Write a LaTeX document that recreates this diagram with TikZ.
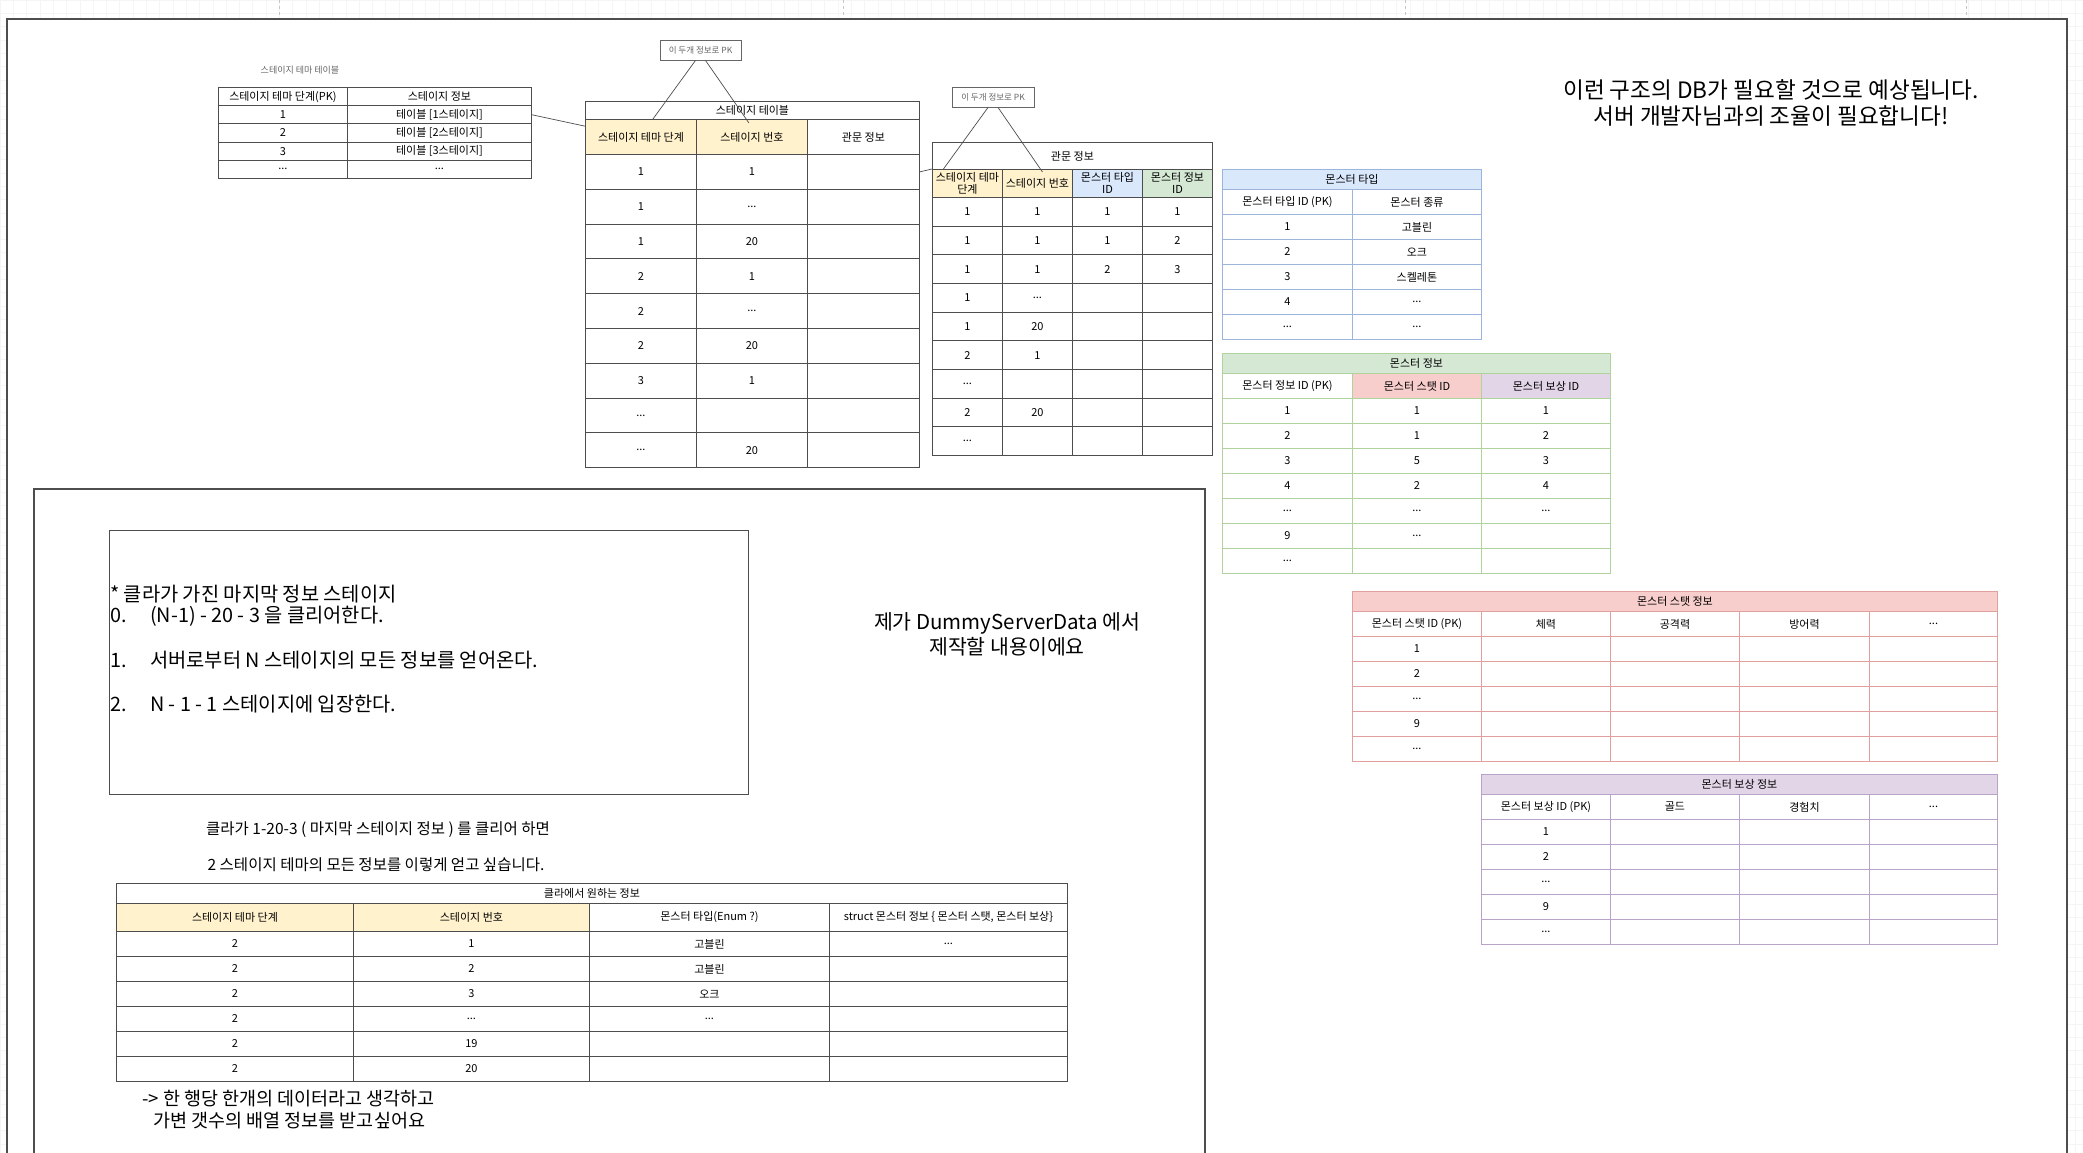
\documentclass[tikz,border=0pt]{standalone}
\usepackage{fontspec}
\setmainfont{Noto Sans CJK KR}
\usetikzlibrary{calc}

\definecolor{linegray}{HTML}{4D4D4D}
\definecolor{notegray}{HTML}{666666}
\definecolor{pkyellow}{HTML}{FFF2CC}
\definecolor{typefill}{HTML}{DAE8FC}
\definecolor{typeline}{HTML}{9CB5DB}
\definecolor{infofill}{HTML}{D5E8D4}
\definecolor{infoline}{HTML}{B0D39E}
\definecolor{statfill}{HTML}{F8CECC}
\definecolor{statline}{HTML}{E0A09E}
\definecolor{rewardfill}{HTML}{E1D5E7}
\definecolor{rewardline}{HTML}{B9A3C8}

\newcommand{\tabfont}{\fontsize{11}{12}\selectfont}
\newcommand{\ellip}{{.}{.}{.}}
\newcommand{\stepno}[1]{\makebox[40pt][l]{#1}}

\tikzset{
  dbcell/.style={draw=#1, line width=0.9pt, anchor=north west, inner sep=0pt, align=center, font=\tabfont},
  dbcell/.default=linegray,
  pkbox/.style={draw=notegray, line width=0.9pt, minimum width=81, minimum height=20, inner sep=0pt,
    font=\fontsize{8.5}{9}\selectfont, text=notegray},
  link/.style={draw=linegray, line width=0.7pt},
  outerframe/.style={draw=linegray, line width=1.5pt},
  notetext/.style={anchor=west, inner sep=0pt, font=\fontsize{19.8}{22}\selectfont},
}

\begin{document}
\begin{tikzpicture}[x=1pt,y=-1pt]
\useasboundingbox (0,0) rectangle (2083,1153);

% canvas grid
\foreach \gx in {0,13.3,...,2083} \draw[gray!8, line width=0.5pt] (\gx,0) -- (\gx,1153);
\foreach \gy in {0,13.3,...,1153} \draw[gray!8, line width=0.5pt] (0,\gy) -- (2083,\gy);
\foreach \px in {279,843,1405,1966} \draw[gray!45, dashed] (\px,0) -- (\px,19);
\fill[white] (7,19) rectangle (2067,1153);
\draw[outerframe] (7,1153) -- (7,19) -- (2067,19) -- (2067,1153);
\draw[linegray, line width=1.3pt] (34,1153) -- (34,489) -- (1205,489) -- (1205,1153);

% stage theme table
\node[font=\fontsize{9}{10}\selectfont, text=notegray] (stt-label) at (300,70) {스테이지 테마 테이블};
\node[dbcell, minimum width=129, minimum height=18.2] (stt-h1) at (218,87) {스테이지 테마 단계(PK)};
\node[dbcell, minimum width=184, minimum height=18.2] (stt-h2) at (347,87) {스테이지 정보};
\foreach \a/\b [count=\i] in {1/{테이블 [1스테이지]}, 2/{테이블 [2스테이지]}, 3/{테이블 [3스테이지]}, \ellip/\ellip} {
  \node[dbcell, minimum width=129, minimum height=18.2] (stt-\i-1) at (218,87+18.2*\i) {\a};
  \node[dbcell, minimum width=184, minimum height=18.2] (stt-\i-2) at (347,87+18.2*\i) {\b};
}

% stage table
\node[dbcell, minimum width=334, minimum height=18] (stg-t) at (585,101) {스테이지 테이블};
\node[dbcell, fill=pkyellow, minimum width=111, minimum height=35] (stg-h1) at (585,119) {스테이지 테마 단계};
\node[dbcell, fill=pkyellow, minimum width=111, minimum height=35] (stg-h2) at (696,119) {스테이지 번호};
\node[dbcell, minimum width=112, minimum height=35] (stg-h3) at (807,119) {관문 정보};
\foreach \a/\b [count=\i] in {1/1, 1/\ellip, 1/20, 2/1, 2/\ellip, 2/20, 3/1, \ellip/{}, \ellip/20} {
  \node[dbcell, minimum width=111, minimum height=34.8] (stg-\i-1) at (585,119.2+34.8*\i) {\a};
  \node[dbcell, minimum width=111, minimum height=34.8] (stg-\i-2) at (696,119.2+34.8*\i) {\b};
  \node[dbcell, minimum width=112, minimum height=34.8] (stg-\i-3) at (807,119.2+34.8*\i) {};
}

% gate info table
\node[dbcell, minimum width=280, minimum height=27] (gate-t) at (932,142) {관문 정보};
\begin{scope}[every node/.append style={font=\fontsize{10.5}{11.5}\selectfont}]
\node[dbcell, fill=pkyellow, minimum width=70, minimum height=28] (gate-h1) at (932,169) {스테이지 테마\\단계};
\node[dbcell, fill=pkyellow, minimum width=70, minimum height=28] (gate-h2) at (1002,169) {스테이지 번호};
\node[dbcell, fill=typefill, minimum width=70, minimum height=28] (gate-h3) at (1072,169) {몬스터 타입\\ID};
\node[dbcell, fill=infofill, minimum width=70, minimum height=28] (gate-h4) at (1142,169) {몬스터 정보\\ID};
\end{scope}
\foreach \a/\b/\c/\d [count=\i] in {1/1/1/1, 1/1/1/2, 1/1/2/3, 1/\ellip/{}/{}, 1/20/{}/{}, 2/1/{}/{},
    \ellip/{}/{}/{}, 2/20/{}/{}, \ellip/{}/{}/{}} {
  \node[dbcell, minimum width=70, minimum height=28.67] (gate-\i-1) at (932,168.33+28.67*\i) {\a};
  \node[dbcell, minimum width=70, minimum height=28.67] (gate-\i-2) at (1002,168.33+28.67*\i) {\b};
  \node[dbcell, minimum width=70, minimum height=28.67] (gate-\i-3) at (1072,168.33+28.67*\i) {\c};
  \node[dbcell, minimum width=70, minimum height=28.67] (gate-\i-4) at (1142,168.33+28.67*\i) {\d};
}

% PK notes
\node[pkbox] (pk1) at (700.5,50) {이 두개 정보로 PK};
\node[pkbox, minimum width=82] (pk2) at (993,97) {이 두개 정보로 PK};

% monster type
\node[dbcell=typeline, fill=typefill, minimum width=259, minimum height=20] (mtype-t) at (1222,169) {몬스터 타입};
\node[dbcell=typeline, minimum width=130, minimum height=25] (mtype-h1) at (1222,189) {몬스터 타입 ID (PK)};
\node[dbcell=typeline, minimum width=129, minimum height=25] (mtype-h2) at (1352,189) {몬스터 종류};
\foreach \a/\b [count=\i] in {1/고블린, 2/오크, 3/스켈레톤, 4/\ellip, \ellip/\ellip} {
  \node[dbcell=typeline, minimum width=130, minimum height=25] (mtype-\i-1) at (1222,189+25*\i) {\a};
  \node[dbcell=typeline, minimum width=129, minimum height=25] (mtype-\i-2) at (1352,189+25*\i) {\b};
}

% monster info
\node[dbcell=infoline, fill=infofill, minimum width=388, minimum height=20] (minfo-t) at (1222,353) {몬스터 정보};
\node[dbcell=infoline, minimum width=130, minimum height=25] (minfo-h1) at (1222,373) {몬스터 정보 ID (PK)};
\node[dbcell=infoline, fill=statfill, minimum width=129, minimum height=25] (minfo-h2) at (1352,373) {몬스터 스탯 ID};
\node[dbcell=infoline, fill=rewardfill, minimum width=129, minimum height=25] (minfo-h3) at (1481,373) {몬스터 보상 ID};
\foreach \a/\b/\c [count=\i] in {1/1/1, 2/1/2, 3/5/3, 4/2/4, \ellip/\ellip/\ellip, 9/\ellip/{}, \ellip/{}/{}} {
  \node[dbcell=infoline, minimum width=130, minimum height=25] (minfo-\i-1) at (1222,373+25*\i) {\a};
  \node[dbcell=infoline, minimum width=129, minimum height=25] (minfo-\i-2) at (1352,373+25*\i) {\b};
  \node[dbcell=infoline, minimum width=129, minimum height=25] (minfo-\i-3) at (1481,373+25*\i) {\c};
}

% monster stat
\node[dbcell=statline, fill=statfill, minimum width=645, minimum height=20] (mstat-t) at (1352,591) {몬스터 스탯 정보};
\node[dbcell=statline, minimum width=129, minimum height=25] (mstat-h1) at (1352,611) {몬스터 스탯 ID (PK)};
\node[dbcell=statline, minimum width=129, minimum height=25] (mstat-h2) at (1481,611) {체력};
\node[dbcell=statline, minimum width=129, minimum height=25] (mstat-h3) at (1610,611) {공격력};
\node[dbcell=statline, minimum width=130, minimum height=25] (mstat-h4) at (1739,611) {방어력};
\node[dbcell=statline, minimum width=128, minimum height=25] (mstat-h5) at (1869,611) {\ellip};
\foreach \a [count=\i] in {1, 2, \ellip, 9, \ellip} {
  \node[dbcell=statline, minimum width=129, minimum height=25] (mstat-\i-1) at (1352,611+25*\i) {\a};
  \node[dbcell=statline, minimum width=129, minimum height=25] (mstat-\i-2) at (1481,611+25*\i) {};
  \node[dbcell=statline, minimum width=129, minimum height=25] (mstat-\i-3) at (1610,611+25*\i) {};
  \node[dbcell=statline, minimum width=130, minimum height=25] (mstat-\i-4) at (1739,611+25*\i) {};
  \node[dbcell=statline, minimum width=128, minimum height=25] (mstat-\i-5) at (1869,611+25*\i) {};
}

% monster reward
\node[dbcell=rewardline, fill=rewardfill, minimum width=516, minimum height=20] (mreward-t) at (1481,774) {몬스터 보상 정보};
\node[dbcell=rewardline, minimum width=129, minimum height=25] (mreward-h1) at (1481,794) {몬스터 보상 ID (PK)};
\node[dbcell=rewardline, minimum width=129, minimum height=25] (mreward-h2) at (1610,794) {골드};
\node[dbcell=rewardline, minimum width=130, minimum height=25] (mreward-h3) at (1739,794) {경험치};
\node[dbcell=rewardline, minimum width=128, minimum height=25] (mreward-h4) at (1869,794) {\ellip};
\foreach \a [count=\i] in {1, 2, \ellip, 9, \ellip} {
  \node[dbcell=rewardline, minimum width=129, minimum height=25] (mreward-\i-1) at (1481,794+25*\i) {\a};
  \node[dbcell=rewardline, minimum width=129, minimum height=25] (mreward-\i-2) at (1610,794+25*\i) {};
  \node[dbcell=rewardline, minimum width=130, minimum height=25] (mreward-\i-3) at (1739,794+25*\i) {};
  \node[dbcell=rewardline, minimum width=128, minimum height=25] (mreward-\i-4) at (1869,794+25*\i) {};
}

% connectors
\draw[link] (stt-1-2.east) -- ($(stg-h1.north west)!0.2!(stg-h1.south west)$);
\draw[link] ([xshift=-5pt]pk1.south) -- ([xshift=12pt]stg-h1.north);
\draw[link] ([xshift=5pt]pk1.south) -- ([xshift=-3pt,yshift=-4pt]stg-h2.north);
\draw[link] ([xshift=-5pt]pk2.south) -- ([xshift=-24pt]gate-h1.north);
\draw[link] ([xshift=5pt]pk2.south) -- ([xshift=5pt,yshift=-3pt]gate-h2.north);
\draw[link] (stg-1-3.east) -- (gate-h1.north west);

% notes
\node[align=center, font=\fontsize{22.6}{26}\selectfont] (dbnote) at (1771,103)
  {이런 구조의 DB가 필요할 것으로 예상됩니다.\\서버 개발자님과의 조율이 필요합니다!};
\node[align=center, font=\fontsize{20.5}{25}\selectfont] (maker) at (1007,634)
  {제가 DummyServerData 에서\\제작할 내용이에요};

\node[draw=linegray, line width=1.2pt, minimum width=639, minimum height=264, anchor=north west, inner sep=0pt] (notebox) at (109,530) {};
\node[notetext] (note0) at (110,594) {* 클라가 가진 마지막 정보 스테이지};
\node[notetext] (note1) at (110,616) {\stepno{0.}(N-1) - 20 - 3 을 클리어한다.};
\node[notetext] (note2) at (110,660) {\stepno{1.}서버로부터 N 스테이지의 모든 정보를 얻어온다.};
\node[notetext] (note3) at (110,704) {\stepno{2.}N - 1 - 1 스테이지에 입장한다.};

\node[font=\fontsize{15.5}{17}\selectfont] (clearnote) at (378,830) {클라가 1-20-3 ( 마지막 스테이지 정보 ) 를 클리어 하면};
\node[font=\fontsize{15.5}{17}\selectfont] (wantnote) at (376,865) {2 스테이지 테마의 모든 정보를 이렇게 얻고 싶습니다.};

% client table
\begin{scope}[every node/.append style={font=\fontsize{10.5}{11.5}\selectfont}]
\node[dbcell, minimum width=951, minimum height=20] (client-t) at (116,883) {클라에서 원하는 정보};
\node[dbcell, fill=pkyellow, minimum width=237, minimum height=28] (client-h1) at (116,903) {스테이지 테마 단계};
\node[dbcell, fill=pkyellow, minimum width=236, minimum height=28] (client-h2) at (353,903) {스테이지 번호};
\node[dbcell, minimum width=240, minimum height=28] (client-h3) at (589,903) {몬스터 타입(Enum ?)};
\node[dbcell, minimum width=238, minimum height=28] (client-h4) at (829,903) {struct 몬스터 정보 \{ 몬스터 스탯, 몬스터 보상\}};
\foreach \a/\b/\c/\d [count=\i] in {2/1/고블린/\ellip, 2/2/고블린/{}, 2/3/오크/{}, 2/\ellip/\ellip/{}, 2/19/{}/{}, 2/20/{}/{}} {
  \node[dbcell, minimum width=237, minimum height=25] (client-\i-1) at (116,906+25*\i) {\a};
  \node[dbcell, minimum width=236, minimum height=25] (client-\i-2) at (353,906+25*\i) {\b};
  \node[dbcell, minimum width=240, minimum height=25] (client-\i-3) at (589,906+25*\i) {\c};
  \node[dbcell, minimum width=238, minimum height=25] (client-\i-4) at (829,906+25*\i) {\d};
}
\end{scope}

\node[anchor=west, inner sep=0pt, font=\fontsize{18.5}{21}\selectfont] (rownote1) at (142,1099) {-> 한 행당 한개의 데이터라고 생각하고};
\node[anchor=west, inner sep=0pt, font=\fontsize{18.5}{21}\selectfont] (rownote2) at (153,1121) {가변 갯수의 배열 정보를 받고싶어요};
\end{tikzpicture}
\end{document}
